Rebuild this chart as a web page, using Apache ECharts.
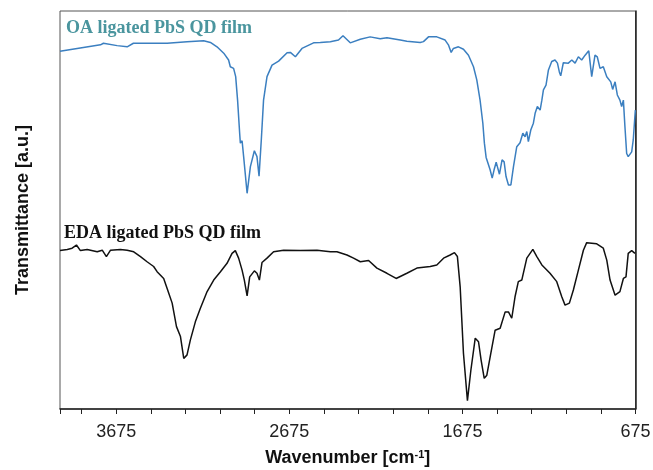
<!DOCTYPE html>
<html>
<head>
<meta charset="utf-8">
<script src="https://cdn.jsdelivr.net/npm/echarts@6/dist/echarts.min.js"></script>
<style>html,body{margin:0;padding:0;background:#fff}#c{width:653px;height:470px}</style>
</head>
<body>
<div id="c"></div>
<script>
// OA ligated PbS QD film: wavenumber [cm-1], transmittance [a.u.]
var oaWave = [4000,3901,3766,3749,3670,3612,3576,3478,3381,3266,3170,3131,3093,3054,3026,3016,2997,2985,2974,2962,2958,2948,2939,2919,2900,2877,2862,2850,2837,2824,2804,2775,2737,2688,2669,2640,2602,2535,2496,2438,2391,2365,2323,2265,2208,2150,2111,2034,1996,1919,1900,1871,1823,1775,1756,1740,1727,1698,1669,1640,1611,1592,1573,1557,1548,1538,1528,1515,1503,1492,1480,1473,1461,1446,1434,1423,1409,1395,1380,1361,1342,1326,1313,1303,1294,1280,1265,1255,1242,1226,1216,1207,1192,1178,1159,1140,1126,1115,1107,1092,1063,1043,1024,1005,986,966,945,928,909,896,880,861,841,818,807,793,780,765,755,745,736,726,717,697,688,676];
var oaTrans = [89.9,90.6,91.5,91.9,91.3,91.0,91.9,91.9,91.9,92.3,92.5,92.1,91.0,89.4,87.7,86.0,85.6,83.5,77.6,69.3,66.8,67.4,63.4,54.2,60.9,64.9,63.4,58.5,67.6,77.6,83.5,86.4,87.4,89.5,89.6,88.5,90.6,92.0,92.1,92.3,92.7,93.8,92.0,92.9,93.5,93.0,93.3,92.7,92.4,92.1,92.3,93.5,93.5,92.7,91.5,89.6,90.6,91.0,90.4,88.9,86.0,82.7,77.6,71.8,66.8,63.2,63.0,60.1,58.0,60.1,62.0,60.9,59.0,62.6,62.1,58.4,56.3,56.3,60.9,65.9,66.9,69.3,68.4,69.7,67.2,70.1,71.8,74.3,76.0,75.1,77.6,80.2,81.4,85.2,87.3,87.7,86.9,84.7,83.7,87.0,86.9,87.7,86.9,88.5,87.7,88.9,90.0,83.5,88.9,88.5,85.6,86.0,83.5,82.2,80.3,82.2,78.9,77.6,76.0,77.6,70.9,64.2,63.4,64.6,67.6,75.1];
// EDA ligated PbS QD film
var edaWave = [4000,3958,3930,3905,3882,3843,3785,3756,3732,3708,3651,3612,3574,3535,3497,3459,3439,3401,3381,3352,3327,3304,3285,3266,3247,3218,3189,3150,3112,3073,3035,3006,2987,2968,2948,2935,2919,2904,2877,2862,2848,2833,2804,2766,2708,2612,2515,2438,2400,2342,2304,2265,2217,2169,2111,2058,1996,1938,1861,1823,1784,1746,1721,1704,1688,1669,1646,1626,1601,1582,1567,1549,1534,1511,1486,1457,1428,1409,1390,1371,1352,1332,1303,1268,1245,1216,1169,1130,1101,1082,1057,1034,1005,976,957,899,861,841,822,793,765,745,730,717,697,678];
var edaTrans = [39.8,40.1,40.4,41.2,39.8,40.1,39.5,39.9,38.3,39.9,40.1,39.9,39.5,38.3,37.0,35.8,34.5,32.8,30.3,26.6,20.7,18.2,12.7,13.6,17.3,21.9,25.3,29.5,32.4,34.5,36.6,39.1,39.8,37.9,34.9,32.4,28.4,33.2,34.7,34.1,32.4,36.8,37.9,39.5,39.9,39.8,39.9,39.5,39.5,38.7,37.9,37.0,37.3,35.4,34.1,32.8,34.1,35.4,35.8,36.2,37.9,38.7,39.3,38.3,30.7,14.0,2.1,9.8,17.8,16.9,12.3,7.7,8.5,14.0,19.8,20.3,24.4,24.4,22.8,28.2,32.0,32.4,37.9,40.1,38.3,36.2,34.1,32.0,28.2,26.1,26.6,29.9,34.9,39.9,41.8,41.5,40.4,37.4,32.4,28.6,29.5,32.8,33.2,39.1,39.8,39.1];
var axisMinWave = 675, axisMaxWave = 4000;
var tickStep = 200, labelStep = 1000;
var seriesNames = ['OA ligated PbS QD film', 'EDA ligated PbS QD film'];

function toPairs(w, t) { return w.map(function (v, i) { return [v - axisMinWave, t[i]]; }); }

var chart = echarts.init(document.getElementById('c'), null, {renderer: 'canvas'});
chart.setOption({
  animation: false,
  backgroundColor: '#fff',
  grid: {left: 60, right: 17.5, top: 11, bottom: 61, show: true, borderColor: '#555', borderWidth: 1, containLabel: false, outerBoundsMode: 'none'},
  xAxis: {
    type: 'value', inverse: true, min: 0, max: axisMaxWave - axisMinWave, interval: tickStep,
    axisLine: {show: true, onZero: false, lineStyle: {color: '#222', width: 1.5}},
    axisTick: {show: true, length: 5, inside: false, lineStyle: {color: '#222', width: 1}},
    axisLabel: {
      margin: 14, color: '#222', fontFamily: 'Liberation Sans, Arial, sans-serif', fontSize: 18,
      formatter: function (v) { return (v % labelStep === 0) ? String(v + axisMinWave) : ''; }
    },
    splitLine: {show: false},
    name: '{b|Wavenumber [cm}{s|-1}{b|]}', nameLocation: 'middle', nameGap: 40,
    nameTextStyle: {
      rich: {
        b: {fontFamily: 'Liberation Sans, Arial, sans-serif', fontWeight: 'bold', fontSize: 18, color: '#111'},
        s: {fontFamily: 'Liberation Sans, Arial, sans-serif', fontWeight: 'bold', fontSize: 11, color: '#111', verticalAlign: 'top', padding: [0, 0, 8, 0]}
      }
    }
  },
  yAxis: {
    type: 'value', min: 0, max: 100,
    axisLine: {show: true, lineStyle: {color: '#222', width: 1.5}},
    axisTick: {show: false}, axisLabel: {show: false}, splitLine: {show: false},
    name: 'Transmittance [a.u.]', nameLocation: 'middle', nameGap: 28, nameRotate: 90,
    nameTextStyle: {fontFamily: 'Liberation Sans, Arial, sans-serif', fontWeight: 'bold', fontSize: 18, color: '#111'}
  },
  graphic: [
    {type: 'text', left: 66, top: 19, style: {text: seriesNames[0], fill: '#4a959e', font: 'bold 18px "Liberation Serif", "Times New Roman", serif'}},
    {type: 'text', left: 64, top: 224, style: {text: seriesNames[1], fill: '#111', font: 'bold 18px "Liberation Serif", "Times New Roman", serif'}}
  ],
  series: [
    {name: seriesNames[0], type: 'line', data: toPairs(oaWave, oaTrans), showSymbol: false, smooth: false, lineStyle: {color: '#3b7fc0', width: 1.5}},
    {name: seriesNames[1], type: 'line', data: toPairs(edaWave, edaTrans), showSymbol: false, smooth: false, lineStyle: {color: '#111', width: 1.5}}
  ]
});
</script>
</body>
</html>
